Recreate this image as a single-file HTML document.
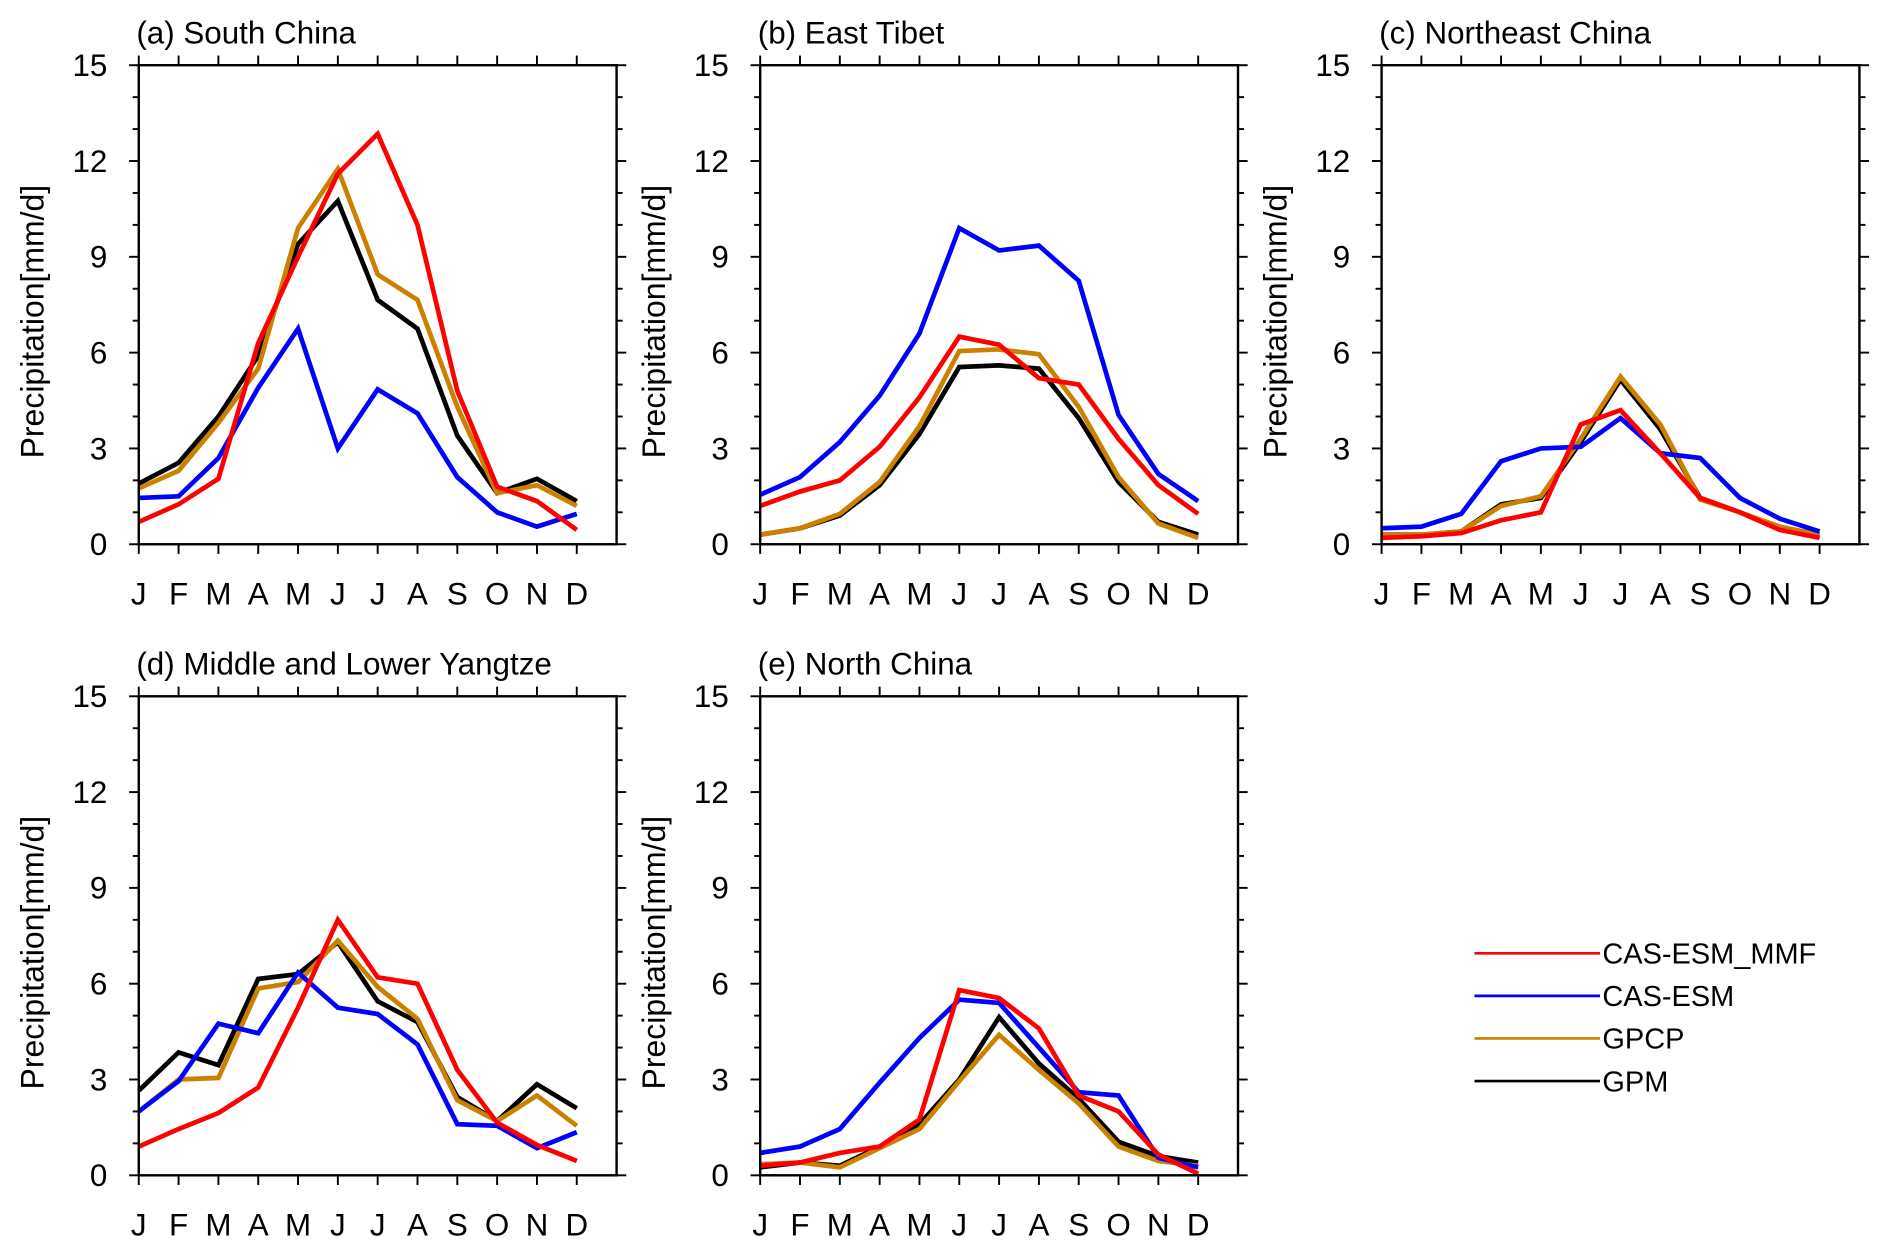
<!DOCTYPE html>
<html><head><meta charset="utf-8"><style>
html,body{margin:0;padding:0;background:#fff;}
svg{display:block;font-family:"Liberation Sans",sans-serif;}
</style></head><body>
<svg id="fig" width="1892" height="1255" viewBox="0 0 1568 1040" xmlns="http://www.w3.org/2000/svg"></svg>
<script>
const months = ["J","F","M","A","M","J","J","A","S","O","N","D"];
const yTicks = [0,3,6,9,12,15];
const seriesNames = ["GPM","GPCP","CAS-ESM","CAS-ESM_MMF"];
const seriesColors = ["#000000","#cc8000","#0000ff","#ff0000"];
const legendNames = ["CAS-ESM_MMF","CAS-ESM","GPCP","GPM"];
const legendColors = ["#ff0000","#0000ff","#cc8000","#000000"];
const panelTitles = ["(a) South China","(b) East Tibet","(c) Northeast China","(d) Middle and Lower Yangtze","(e) North China"];
// series order per panel: GPM, GPCP, CAS-ESM, CAS-ESM_MMF
const scGPM  = [1.9,2.55,4.0,5.9,9.4,10.75,7.65,6.75,3.4,1.6,2.05,1.35];
const scGPCP = [1.75,2.3,3.8,5.5,9.9,11.75,8.45,7.65,4.3,1.6,1.85,1.2];
const scESM  = [1.45,1.5,2.7,4.9,6.75,3.0,4.85,4.1,2.1,1.0,0.55,0.95];
const scMMF  = [0.7,1.25,2.05,6.3,9.0,11.6,12.85,10.0,4.8,1.8,1.35,0.45];
const etGPM  = [0.3,0.5,0.9,1.85,3.45,5.55,5.6,5.5,3.95,1.95,0.7,0.3];
const etGPCP = [0.3,0.5,0.95,1.95,3.7,6.05,6.1,5.95,4.3,2.1,0.65,0.2];
const etESM  = [1.55,2.1,3.2,4.65,6.6,9.9,9.2,9.35,8.25,4.05,2.2,1.35];
const etMMF  = [1.2,1.65,2.0,3.05,4.6,6.5,6.25,5.2,5.0,3.3,1.85,0.95];
const neGPM  = [0.3,0.3,0.4,1.25,1.45,3.2,5.15,3.6,1.45,1.0,0.5,0.3];
const neGPCP = [0.3,0.3,0.4,1.2,1.5,3.3,5.25,3.75,1.4,1.0,0.55,0.3];
const neESM  = [0.5,0.55,0.95,2.6,3.0,3.05,3.95,2.85,2.7,1.45,0.8,0.4];
const neMMF  = [0.2,0.25,0.35,0.75,1.0,3.75,4.2,2.85,1.45,1.0,0.45,0.2];
const yzGPM  = [2.65,3.85,3.45,6.15,6.3,7.3,5.45,4.8,2.45,1.7,2.85,2.1];
const yzGPCP = [2.0,3.0,3.05,5.85,6.05,7.35,5.9,4.9,2.35,1.7,2.5,1.55];
const yzESM  = [2.0,2.95,4.75,4.45,6.35,5.25,5.05,4.1,1.6,1.55,0.85,1.35];
const yzMMF  = [0.9,1.45,1.95,2.75,5.25,8.0,6.2,6.0,3.3,1.65,0.95,0.45];
const ncGPM  = [0.25,0.4,0.3,0.9,1.6,3.0,4.95,3.5,2.4,1.05,0.6,0.4];
const ncGPCP = [0.35,0.4,0.25,0.85,1.45,2.95,4.4,3.3,2.25,0.9,0.45,0.3];
const ncESM  = [0.7,0.9,1.45,2.9,4.3,5.5,5.4,4.0,2.6,2.5,0.55,0.25];
const ncMMF  = [0.3,0.4,0.7,0.9,1.75,5.8,5.55,4.6,2.5,2.0,0.65,0.05];
const panelData = [
  [scGPM,scGPCP,scESM,scMMF],
  [etGPM,etGPCP,etESM,etMMF],
  [neGPM,neGPCP,neESM,neMMF],
  [yzGPM,yzGPCP,yzESM,yzMMF],
  [ncGPM,ncGPCP,ncESM,ncMMF]
];
const NS="http://www.w3.org/2000/svg";
const svg=document.getElementById('fig');
function mk(tag,attrs,parent){const e=document.createElementNS(NS,tag);for(const k in attrs)e.setAttribute(k,attrs[k]);(parent||svg).appendChild(e);return e;}
const origins=[[115,54],[630,54],[1145,54],[115,577],[630,577]];
const W=396,H=397;
panelData.forEach((series,p)=>{
  const [x0,y0]=origins[p];
  const g=mk('g',{});
  
  
  const xs=i=>x0+i*W/12;
  const ys=v=>y0+H-v*H/15;
  const t=mk('text',{x:x0-2,y:y0-18,'font-size':26,fill:'#000'},g);
  t.textContent=panelTitles[p];
  
  
  const yl=mk('text',{x:0,y:0,'font-size':26.5,'text-anchor':'middle',transform:`translate(${x0-79},${y0+H/2+14}) rotate(-90)`},g);
  yl.textContent='Precipitation[mm/d]';
  
  
  for(let v=0;v<=15;v++){
    const major=v%3===0, L=major?8:5;
    mk('line',{x1:x0-L,x2:x0,y1:ys(v),y2:ys(v),stroke:'#000','stroke-width':1.6},g);
    mk('line',{x1:x0+W,x2:x0+W+L,y1:ys(v),y2:ys(v),stroke:'#000','stroke-width':1.6},g);
  }
  yTicks.forEach(v=>{
    const tl=mk('text',{x:x0-26,y:ys(v)+9,'font-size':26,'text-anchor':'end'},g);
    tl.textContent=v;
    
    
  });
  months.forEach((m,i)=>{
    mk('line',{x1:xs(i),x2:xs(i),y1:y0+H,y2:y0+H+8,stroke:'#000','stroke-width':1.6},g);
    mk('line',{x1:xs(i),x2:xs(i),y1:y0-8,y2:y0,stroke:'#000','stroke-width':1.6},g);
    const ml=mk('text',{x:xs(i),y:y0+H+50,'font-size':26,'text-anchor':'middle'},g);
    ml.textContent=m;
    
    
  });
  series.forEach((arr,s)=>{
    const pl=mk('polyline',{points:arr.map((v,i)=>xs(i)+','+ys(v)).join(' '),fill:'none',stroke:seriesColors[s],'stroke-width':3.9,'stroke-linejoin':'miter'},g);
    
    
  });
  const fr=mk('rect',{x:x0,y:y0,width:W,height:H,fill:'none',stroke:'#000','stroke-width':2},g);
  
  
});
const lg=mk('g',{});


legendNames.forEach((n,i)=>{
  const y=790+i*35.3;
  mk('line',{x1:1222,x2:1326,y1:y,y2:y,stroke:legendColors[i],'stroke-width':2.2},lg);
  const lt=mk('text',{x:1328,y:y+8.5,'font-size':24},lg);
  lt.textContent=n;
  
  
});
</script>
</body></html>
